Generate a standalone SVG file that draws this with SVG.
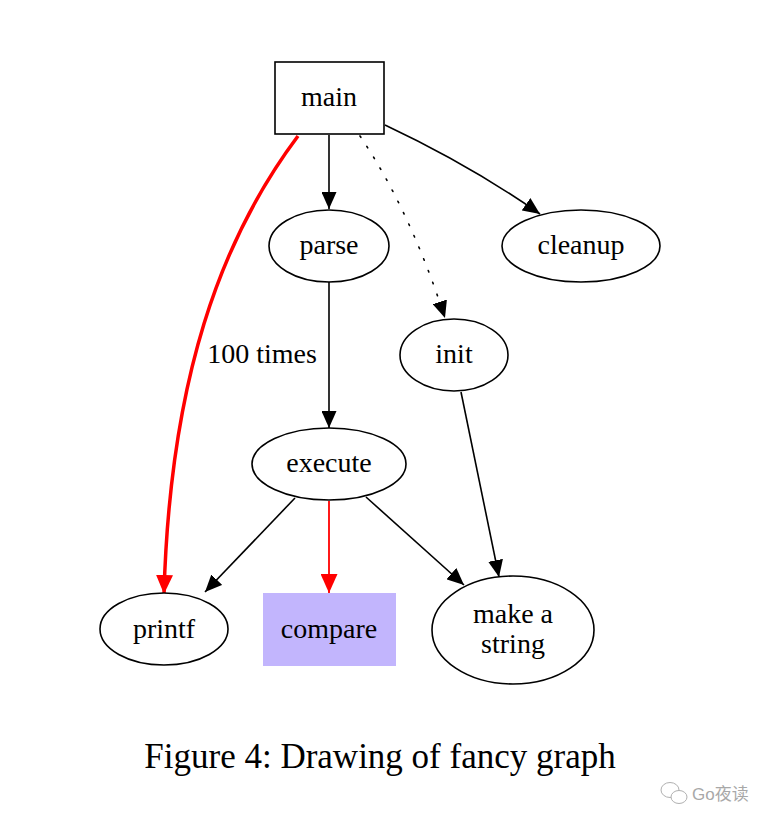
<svg xmlns="http://www.w3.org/2000/svg" width="780" height="826" viewBox="0 0 780 826">
<style>
.n{fill:#fff;stroke:#000;stroke-width:1.6}
.t{font-family:"Liberation Serif","Times New Roman",serif;font-size:28px;text-anchor:middle;fill:#000}
.e{fill:none;stroke:#000;stroke-width:1.6}
.r{fill:none;stroke:#ff0000}
</style>
<defs>
<marker id="ab" markerWidth="17" markerHeight="15" refX="17" refY="7.5" orient="auto" markerUnits="userSpaceOnUse"><path d="M0,0 L17,7.5 L0,15 Z" fill="#000"/></marker>
<marker id="ar" markerWidth="19" markerHeight="17" refX="19" refY="8.5" orient="auto" markerUnits="userSpaceOnUse"><path d="M0,0 L19,8.5 L0,17 Z" fill="#ff0000"/></marker>
</defs>
<rect width="780" height="826" fill="#fff"/>
<g id="edges">
<path class="e" d="M329,135 L329,209" marker-end="url(#ab)"/>
<path class="e" d="M385,125 Q470,165 540,214" marker-end="url(#ab)"/>
<path class="e" d="M360,136 Q410,210 445,318" stroke-dasharray="1.6,11" stroke-linecap="round" marker-end="url(#ab)"/>
<path class="r" stroke-width="3.5" d="M298,136 C220,240 170,380 164,594" marker-end="url(#ar)"/>
<path class="e" d="M329,282 L329,428" marker-end="url(#ab)"/>
<path class="e" d="M461,392 L499,577" marker-end="url(#ab)"/>
<path class="e" d="M295,498 L205,592" marker-end="url(#ab)"/>
<path class="r" stroke-width="1.8" d="M329,501 L329,593" marker-end="url(#ar)"/>
<path class="e" d="M366,497 L464,585" marker-end="url(#ab)"/>
<text class="t" x="262" y="363">100 times</text>
</g>
<g id="main"><rect class="n" x="275" y="62" width="109" height="72"/><text class="t" x="329" y="106">main</text></g>
<g id="parse"><ellipse class="n" cx="329" cy="246" rx="60" ry="36"/><text class="t" x="329" y="254">parse</text></g>
<g id="cleanup"><ellipse class="n" cx="581" cy="246" rx="79" ry="36"/><text class="t" x="581" y="254">cleanup</text></g>
<g id="init"><ellipse class="n" cx="454" cy="355" rx="54" ry="36"/><text class="t" x="454" y="363">init</text></g>
<g id="execute"><ellipse class="n" cx="329" cy="464" rx="77" ry="36"/><text class="t" x="329" y="472">execute</text></g>
<g id="printf"><ellipse class="n" cx="164" cy="629" rx="64" ry="36"/><text class="t" x="164" y="638">printf</text></g>
<g id="compare"><rect x="263" y="593" width="133" height="73" fill="#c2b5fd"/><text class="t" x="329" y="638">compare</text></g>
<g id="make_a_string"><ellipse class="n" cx="513" cy="630" rx="81" ry="54"/><text class="t" x="513" y="623">make a</text><text class="t" x="513" y="653">string</text></g>
<text x="380" y="768" font-family="Liberation Serif,'Times New Roman',serif" font-size="35" text-anchor="middle" fill="#000">Figure 4: Drawing of fancy graph</text>
<g id="watermark" fill="none" stroke="#b0b0b0" stroke-width="1">
<ellipse cx="670" cy="790" rx="9" ry="7.5"/>
<ellipse cx="679" cy="797" rx="8" ry="6.5" fill="#fff"/>
<text x="692" y="800" font-family="'Liberation Sans','Noto Sans CJK SC',sans-serif" font-size="17" fill="#a8a8a8" stroke="none">Go夜读</text>
</g>
</svg>
